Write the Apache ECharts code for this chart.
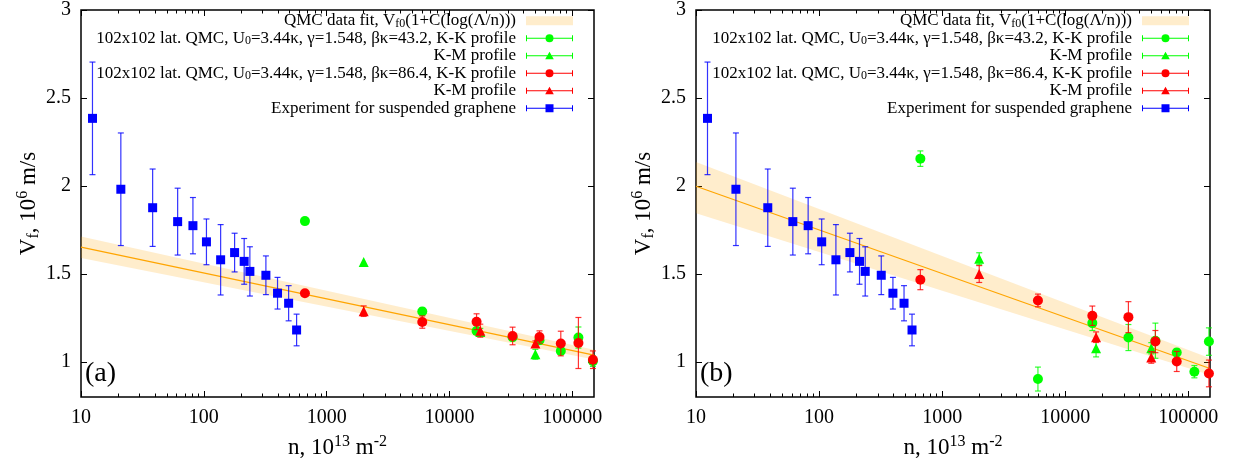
<!DOCTYPE html>
<html><head><meta charset="utf-8">
<script src="https://cdn.jsdelivr.net/npm/echarts@6/dist/echarts.min.js"></script>
<style>html,body{margin:0;padding:0;background:#fff}#c{width:1233px;height:466px}</style>
</head><body><div id="c"></div>
<script>
// ---------- data ----------
const xTicks = [10, 100, 1000, 10000, 100000];
const xMinorTicks = [20,30,40,50,60,70,80,90,200,300,400,500,600,700,800,900,
  2000,3000,4000,5000,6000,7000,8000,9000,20000,30000,40000,50000,60000,70000,80000,90000];
const yTicks = [1, 1.5, 2, 2.5, 3];

// experiment (same in both panels)
const expX = [12.4, 21.1, 38.3, 61.2, 81.5, 105, 137, 178, 213, 237, 320, 398, 490, 569];
const expY = [2.384, 1.981, 1.876, 1.797, 1.774, 1.682, 1.580, 1.621, 1.571, 1.514, 1.492, 1.390, 1.333, 1.181];
const expErr = [0.32, 0.32, 0.22, 0.19, 0.16, 0.13, 0.20, 0.11, 0.13, 0.14, 0.11, 0.09, 0.10, 0.09];

// fit lines and bands (straight in log n)
const fitX = [10, 150000];
const fitA = [1.652, 1.038];
const fitAHi = [1.712, 1.068];
const fitALo = [1.590, 1.013];
const fitB = [1.998, 0.962];
const fitBHi = [2.136, 1.020];
const fitBLo = [1.844, 0.925];

// QMC x positions
const qmcX = [665, 6000, 16600, 32600, 54000, 80500, 112000, 147000];
const kmX = [2000, 17800, 50000];
const qmcXbRed = [665, 6000, 16600, 32600, 54000, 80500, 147000];

// panel (a)
const aKK43 = [1.800, 1.286, 1.175, 1.140, 1.123, 1.062, 1.138, 1.004];
const aKK43Err = [0, 0.02, 0.02, 0.02, 0.02, 0.02, 0.06, 0.03];
const aKM43 = [1.567, 1.170, 1.043];
const aKM43Err = [0, 0.02, 0.028];
const aKK86 = [1.390, 1.226, 1.228, 1.147, 1.141, 1.104, 1.107, 1.012];
const aKK86Err = [0.01, 0.035, 0.045, 0.05, 0.035, 0.07, 0.145, 0.05];
const aKM86 = [1.288, 1.177, 1.104];
const aKM86Err = [0.03, 0.037, 0.015];

// panel (b)
const bKK43 = [2.155, 0.902, 1.220, 1.138, 1.120, 1.053, 0.944, 1.115];
const bKK43Err = [0.044, 0.068, 0.042, 0.074, 0.10, 0.02, 0.035, 0.078];
const bKM43 = [1.586, 1.077, 1.077];
const bKM43Err = [0.034, 0.049, 0.032];
const bKK86 = [1.467, 1.349, 1.262, 1.254, 1.115, 1.002, 0.934];
const bKK86Err = [0.057, 0.036, 0.055, 0.088, 0.063, 0.057, 0.076];
const bKM86 = [1.499, 1.140, 1.025];
const bKM86Err = [0.048, 0.030, 0.033];

// ---------- styling ----------
const FONT = 'Liberation Serif';
const GREEN = '#00ff00', RED = '#ff0000', BLUE = '#0000ff';
const BAND = 'rgba(255,165,0,0.2)';
const labels = {
  fit: 'QMC data fit, V{sub|f0}(1+C(log(\u039B/n)))',
  kk43: '102x102 lat. QMC, U{sub|0}=3.44\u03BA, \u03B3=1.548, \u03B2\u03BA=43.2, K-K profile',
  km43: 'K-M profile',
  kk86: '102x102 lat. QMC, U{sub|0}=3.44\u03BA, \u03B3=1.548, \u03B2\u03BA=86.4, K-K profile',
  km86: 'K-M profile',
  exp: 'Experiment for suspended graphene'
};
const anchors = 'M0,0 L0.01,0 L0,0.01 Z M47,9 L46.99,9 L47,8.99 Z ';
const bar = 'M0,4 L47,4 L47,5 L0,5 Z M0,1.5 L1,1.5 L1,7.5 L0,7.5 Z M46,1.5 L47,1.5 L47,7.5 L46,7.5 Z ';
const icCircle = 'path://' + anchors + bar + 'M19.5,4.5 A4,4 0 1 1 27.5,4.5 A4,4 0 1 1 19.5,4.5 Z';
const icTri = 'path://' + anchors + bar + 'M23.5,0.4 L27.8,8 L19.2,8 Z';
const icSq = 'path://' + anchors + bar + 'M19.5,0.5 L27.5,0.5 L27.5,8.5 L19.5,8.5 Z';

function bandRender(hi, lo) {
  return function (params, api) {
    const i = params.dataIndex;
    if (i >= fitX.length - 1) return null;
    const p1 = api.coord([fitX[i], hi[i]]);
    const p2 = api.coord([fitX[i + 1], hi[i + 1]]);
    const p3 = api.coord([fitX[i + 1], lo[i + 1]]);
    const p4 = api.coord([fitX[i], lo[i]]);
    return { type: 'polygon', shape: { points: [p1, p2, p3, p4] }, style: { fill: BAND } };
  };
}
function errRender(color) {
  return function (params, api) {
    const x = api.value(0), y = api.value(1), e = api.value(2);
    if (!(e > 0)) return null;
    const t = api.coord([x, y + e]);
    const b = api.coord([x, y - e]);
    const w = 3;
    const st = { stroke: color, lineWidth: 1.2, opacity: 0.8 };
    return { type: 'group', children: [
      { type: 'line', shape: { x1: t[0], y1: t[1], x2: b[0], y2: b[1] }, style: st },
      { type: 'line', shape: { x1: t[0] - w, y1: t[1], x2: t[0] + w, y2: t[1] }, style: st },
      { type: 'line', shape: { x1: b[0] - w, y1: b[1], x2: b[0] + w, y2: b[1] }, style: st }
    ] };
  };
}
function zip3(xs, ys, es) { return xs.map((x, i) => [x, ys[i], es[i]]); }

function panelSeries(p, d) {
  const xi = p * 4, yi = p * 2;
  const s = [];
  s.push({ name: 'fit', type: 'custom', xAxisIndex: xi, yAxisIndex: yi, z: 1, silent: true,
    itemStyle: { color: BAND }, renderItem: bandRender(d.hi, d.lo),
    data: fitX.map((x, i) => [x, d.hi[i], d.lo[i]]), encode: { x: 0, y: 1 } });
  s.push({ name: 'fitline', type: 'line', xAxisIndex: xi, yAxisIndex: yi, z: 2, silent: true,
    showSymbol: false, symbol: 'none', lineStyle: { color: '#ffa500', width: 1.2 },
    data: fitX.map((x, i) => [x, d.fit[i]]) });
  const sets = [
    ['kk43', d.kk43x, d.kk43, d.kk43e, GREEN, 'circle', 10],
    ['km43', kmX, d.km43, d.km43e, GREEN, 'triangle', 10],
    ['kk86', d.kk86x, d.kk86, d.kk86e, RED, 'circle', 10],
    ['km86', kmX, d.km86, d.km86e, RED, 'triangle', 10],
    ['exp', expX, expY, expErr, BLUE, 'rect', 9]
  ];
  sets.forEach((st, k) => {
    const [name, xs, ys, es, col, sym, size] = st;
    s.push({ name, type: 'custom', xAxisIndex: xi, yAxisIndex: yi, z: 3 + 2 * k, silent: true,
      itemStyle: { color: col }, renderItem: errRender(col),
      data: zip3(xs, ys, es), encode: { x: 0, y: 1 } });
    s.push({ name, type: 'scatter', xAxisIndex: xi, yAxisIndex: yi, z: 4 + 2 * k, silent: true,
      symbol: sym, symbolSize: size, itemStyle: { color: col, opacity: 1 },
      data: xs.map((x, i) => [x, ys[i]]) });
  });
  return s;
}

const panels = [
  { fit: fitA, hi: fitAHi, lo: fitALo, kk43x: qmcX, kk43: aKK43, kk43e: aKK43Err,
    km43: aKM43, km43e: aKM43Err, kk86x: qmcX, kk86: aKK86, kk86e: aKK86Err, km86: aKM86, km86e: aKM86Err },
  { fit: fitB, hi: fitBHi, lo: fitBLo, kk43x: qmcX, kk43: bKK43, kk43e: bKK43Err,
    km43: bKM43, km43e: bKM43Err, kk86x: qmcXbRed, kk86: bKK86, kk86e: bKK86Err, km86: bKM86, km86e: bKM86Err }
];

const gridLefts = [81, 696];
const grids = gridLefts.map((l, p) => ({ left: l, top: 9, width: p === 0 ? 513 : 514, height: 389,
  show: true, borderColor: '#000', borderWidth: 1.5, backgroundColor: 'rgba(0,0,0,0)' }));

const supRich = {
  sup: { fontFamily: FONT, fontSize: 16, color: '#000', verticalAlign: 'top', lineHeight: 12 },
  sub: { fontFamily: FONT, fontSize: 16, color: '#000', verticalAlign: 'bottom', lineHeight: 16 }
};

function xAx(p, pos, ticks, len, main) {
  const a = { type: 'log', logBase: 10, gridIndex: p, position: pos, min: 10, max: 150000,
    axisLine: { show: false }, splitLine: { show: false }, minorTick: { show: false },
    axisTick: { show: true, inside: true, length: len, customValues: ticks, lineStyle: { color: '#000', width: 1 } },
    axisLabel: { show: false } };
  if (main) {
    a.axisLabel = { show: true, customValues: xTicks, margin: 11, fontFamily: FONT, fontSize: 20, color: '#000',
      formatter: v => String(Math.round(v)) };
    a.name = 'n, 10{sup|13} m{sup|-2}';
    a.nameLocation = 'middle';
    a.nameGap = 37;
    a.nameTextStyle = { fontFamily: FONT, fontSize: 23, color: '#000', lineHeight: 27, rich: supRich };
  }
  return a;
}
function yAx(p, pos, main) {
  const a = { type: 'value', gridIndex: p, position: pos, min: 0.8, max: 3,
    axisLine: { show: false }, splitLine: { show: false },
    axisTick: { show: true, inside: true, length: 6, customValues: yTicks, lineStyle: { color: '#000', width: 1 } },
    axisLabel: { show: false } };
  if (main) {
    a.axisLabel = { show: true, customValues: yTicks, margin: 10, fontFamily: FONT, fontSize: 20, color: '#000',
      formatter: v => String(v) };
    a.name = 'V{sub|f}, 10{sup|6} m/s';
    a.nameLocation = 'middle';
    a.nameRotate = 90;
    a.nameGap = 36;
    a.nameTextStyle = { fontFamily: FONT, fontSize: 23, color: '#000', lineHeight: 27, rich: supRich };
  }
  return a;
}
const xAxes = [], yAxes = [];
[0, 1].forEach(p => {
  xAxes.push(xAx(p, 'bottom', xTicks, 6, true));
  xAxes.push(xAx(p, 'bottom', xMinorTicks, 3.5, false));
  xAxes.push(xAx(p, 'top', xTicks, 6, false));
  xAxes.push(xAx(p, 'top', xMinorTicks, 3.5, false));
  yAxes.push(yAx(p, 'left', true));
  yAxes.push(yAx(p, 'right', false));
});

const legendData = [
  { name: 'fit', icon: 'rect', itemStyle: { color: BAND } },
  { name: 'kk43', icon: icCircle, itemStyle: { color: GREEN } },
  { name: 'km43', icon: icTri, itemStyle: { color: GREEN } },
  { name: 'kk86', icon: icCircle, itemStyle: { color: RED } },
  { name: 'km86', icon: icTri, itemStyle: { color: RED } },
  { name: 'exp', icon: icSq, itemStyle: { color: BLUE } }
];
function legend(right) {
  return { orient: 'vertical', align: 'right', right: right, top: 12, itemGap: 0, itemWidth: 47, itemHeight: 9,
    padding: 0, selectedMode: false, data: legendData, formatter: n => labels[n],
    textStyle: { fontFamily: FONT, fontSize: 17, color: '#000', lineHeight: 17.5, padding: [0, 5, 0, 0],
      rich: { sub: { fontFamily: FONT, fontSize: 12, color: '#000', verticalAlign: 'bottom', lineHeight: 9 } } } };
}

const chart = echarts.init(document.getElementById('c'), null, { renderer: 'canvas' });
chart.setOption({
  animation: false,
  backgroundColor: '#fff',
  title: [
    { text: '(a)', left: 85, top: 360, padding: 0, textStyle: { fontFamily: FONT, fontSize: 28, fontWeight: 'normal', color: '#000' } },
    { text: '(b)', left: 700, top: 360, padding: 0, textStyle: { fontFamily: FONT, fontSize: 28, fontWeight: 'normal', color: '#000' } }
  ],
  legend: [legend(1233 - 573), legend(1233 - 1189)],
  grid: grids,
  xAxis: xAxes,
  yAxis: yAxes,
  series: panelSeries(0, panels[0]).concat(panelSeries(1, panels[1]))
});
</script></body></html>
